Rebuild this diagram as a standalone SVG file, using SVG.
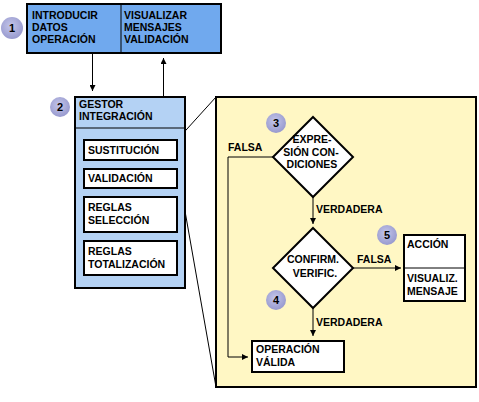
<svg xmlns="http://www.w3.org/2000/svg" width="479" height="402" viewBox="0 0 479 402">
<defs>
<radialGradient id="cg" cx="45%" cy="40%" r="65%">
<stop offset="0" stop-color="#C4C6EA"/>
<stop offset="1" stop-color="#9496CC"/>
</radialGradient>
<marker id="ah" viewBox="0 0 10 10" refX="10" refY="5" markerWidth="6" markerHeight="6" orient="auto" markerUnits="userSpaceOnUse">
<path d="M0,0 L10,5 L0,10 z" fill="#000"/>
</marker>
<style>
text{font-family:"Liberation Sans",Arial,sans-serif;font-weight:bold;font-size:10.5px;fill:#000}
.box{stroke:#000;stroke-width:2}
.ln{stroke:#000;stroke-width:1;fill:none}
.arr{stroke:#000;stroke-width:1;fill:none;marker-end:url(#ah)}
.badge{fill:url(#cg)}
.num{font-size:11px;fill:#000;text-anchor:middle}
.mid{text-anchor:middle}
</style>
</defs>

<g id="connectors">
<line class="arr" x1="92.5" y1="53" x2="92.5" y2="91"/>
<line class="arr" x1="163.5" y1="97" x2="163.5" y2="58"/>
<line class="ln" x1="177" y1="140" x2="216" y2="97"/>
<line class="ln" x1="176" y1="160" x2="216" y2="387"/>
</g>

<g id="n1">
<rect class="box" x="27" y="4" width="194" height="49" fill="#70A9EE"/>
<line x1="121" y1="4" x2="121" y2="53" stroke="#000" stroke-width="1"/>
<text x="32" y="19">INTRODUCIR</text>
<text x="32" y="31">DATOS</text>
<text x="32" y="43">OPERACIÓN</text>
<text x="124" y="19">VISUALIZAR</text>
<text x="124" y="31">MENSAJES</text>
<text x="124" y="43">VALIDACIÓN</text>
</g>
<g id="badge1">
<circle class="badge" cx="12" cy="28" r="11"/>
<text class="num" x="12" y="32">1</text>
</g>

<g id="n2">
<rect class="box" x="75" y="97" width="110" height="191" fill="#B4D2F4"/>
<line x1="75" y1="128" x2="185" y2="128" stroke="#000" stroke-width="1"/>
<text x="79" y="108">GESTOR</text>
<text x="79" y="120">INTEGRACIÓN</text>
</g>
<g id="badge2">
<circle class="badge" cx="60" cy="107" r="10"/>
<text class="num" x="60" y="111">2</text>
</g>
<g id="sustitucion">
<rect class="box" x="84" y="140" width="93" height="20" fill="#fff"/>
<text x="88" y="154">SUSTITUCIÓN</text>
</g>
<g id="validacion">
<rect class="box" x="84" y="169" width="93" height="19" fill="#fff"/>
<text x="88" y="182">VALIDACIÓN</text>
</g>
<g id="reglasSel">
<rect class="box" x="84" y="197" width="93" height="35" fill="#fff"/>
<text x="88" y="211">REGLAS</text>
<text x="88" y="224">SELECCIÓN</text>
</g>
<g id="reglasTot">
<rect class="box" x="84" y="241" width="93" height="34" fill="#fff"/>
<text x="88" y="255">REGLAS</text>
<text x="88" y="268">TOTALIZACIÓN</text>
</g>

<g id="detail">
<rect class="box" x="216" y="97" width="260" height="290" fill="#FFF7C4"/>
</g>

<g id="flow-connectors">
<polyline class="arr" points="273,157 228,157 228,357 248,357"/>
<line class="arr" x1="313" y1="197" x2="313" y2="224"/>
<line class="arr" x1="353" y1="268" x2="401" y2="268"/>
<line class="arr" x1="313" y1="308" x2="313" y2="336"/>
<text x="228" y="151">FALSA</text>
<text x="316" y="213">VERDADERA</text>
<text x="357" y="263">FALSA</text>
<text x="316" y="326">VERDADERA</text>
</g>

<g id="d3">
<polygon class="box" points="313,117 353,157 313,197 273,157" fill="#fff"/>
<text class="mid" x="312" y="143">EXPRE-</text>
<text class="mid" x="311" y="156">SIÓN CON-</text>
<text class="mid" x="312" y="168">DICIONES</text>
</g>
<g id="badge3">
<circle class="badge" cx="276" cy="123" r="10"/>
<text class="num" x="276" y="127">3</text>
</g>

<g id="d4">
<polygon class="box" points="313,228 353,268 313,308 273,268" fill="#fff"/>
<text class="mid" x="313" y="263">CONFIRM.</text>
<text class="mid" x="315" y="277">VERIFIC.</text>
</g>
<g id="badge4">
<circle class="badge" cx="276" cy="300" r="10"/>
<text class="num" x="276" y="304">4</text>
</g>

<g id="accion">
<rect class="box" x="404" y="235" width="61" height="66" fill="#fff"/>
<line x1="404" y1="268" x2="465" y2="268" stroke="#000" stroke-width="1"/>
<text x="407" y="248">ACCIÓN</text>
<text x="407" y="282">VISUALIZ.</text>
<text x="407" y="295">MENSAJE</text>
</g>
<g id="badge5">
<circle class="badge" cx="387" cy="235" r="10"/>
<text class="num" x="387" y="239">5</text>
</g>

<g id="opvalida">
<rect class="box" x="252" y="341" width="92" height="31" fill="#fff"/>
<text x="256" y="353">OPERACIÓN</text>
<text x="256" y="366">VÁLIDA</text>
</g>
</svg>
